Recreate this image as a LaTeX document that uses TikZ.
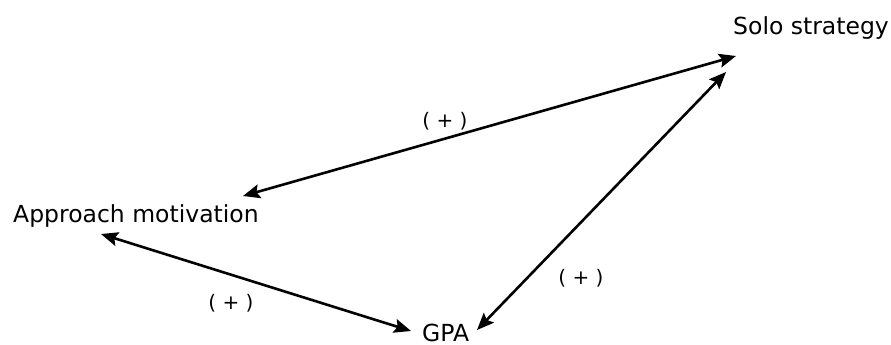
\documentclass[tikz,border=0pt]{standalone}
\usepackage{fontspec}
\setmainfont{DejaVu Sans}
\usetikzlibrary{arrows.meta}
\tikzset{
  lbl/.style={font=\fontsize{23.5}{28}\selectfont, inner sep=0pt, text depth=0pt, anchor=base west},
  sign/.style={font=\fontsize{20}{24}\selectfont, inner sep=0pt},
  link/.style={line width=2.6pt, {Stealth[length=17pt,width=14pt,inset=3pt]}-{Stealth[length=17pt,width=14pt,inset=3pt]}}
}
\begin{document}
\begin{tikzpicture}[x=1pt,y=-1pt]
\useasboundingbox (0,0) rectangle (891,345);
\node[lbl] (solo) at (733,35) {Solo strategy};
\node[lbl] (app) at (13,222) {Approach motivation};
\node[lbl] (gpa) at (422,341) {GPA};
\coordinate (s1) at (736,56);
\coordinate (s2) at (726,72);
\coordinate (a1) at (243,196);
\coordinate (a2) at (101,234);
\coordinate (g1) at (411,331);
\coordinate (g2) at (477,330);
\draw[link] (a1) -- (s1);
\draw[link] (a2) -- (g1);
\draw[link] (g2) -- (s2);
\node[sign] (p1) at (445,121) {( + )};
\node[sign] (p2) at (231,303) {( + )};
\node[sign] (p3) at (581,278) {( + )};
\end{tikzpicture}
\end{document}
